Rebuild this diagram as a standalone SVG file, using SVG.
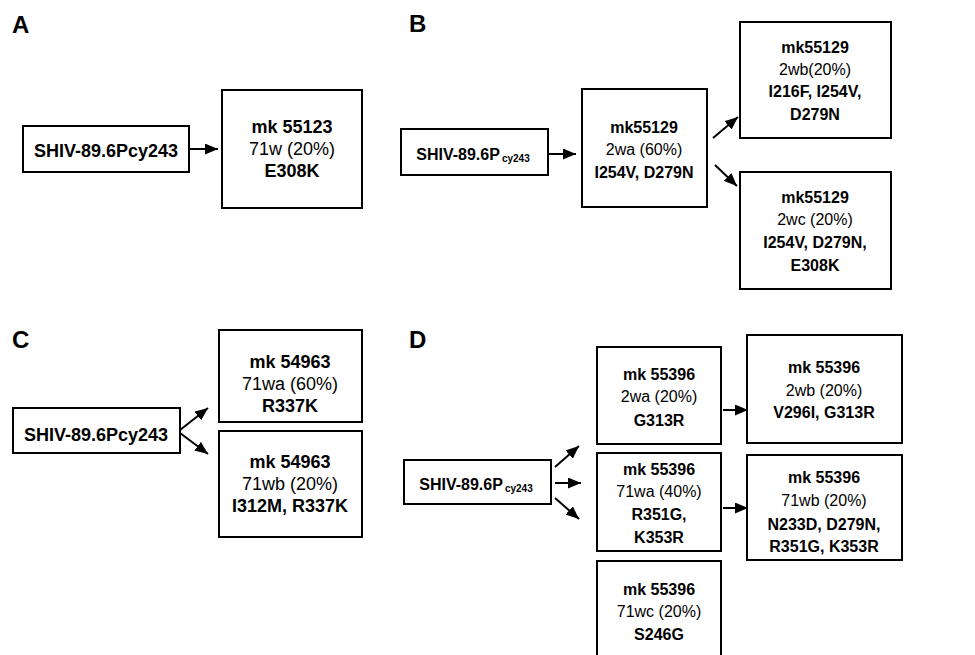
<svg xmlns="http://www.w3.org/2000/svg" width="975" height="655" viewBox="0 0 975 655">
<defs>
<marker id="ah" markerUnits="userSpaceOnUse" markerWidth="13" markerHeight="11" refX="13" refY="5.5" orient="auto">
<path d="M0,0 L13,5.5 L0,11 z" fill="#000"/>
</marker>
<style>
text{font-family:"Liberation Sans",Arial,sans-serif;fill:#000;text-anchor:middle}
.h{font-size:24px;font-weight:bold;text-anchor:start}
.b18{font-size:18px;font-weight:bold}
.r18{font-size:18px}
.b16{font-size:16px;font-weight:bold}
.r16{font-size:16px}
.sub{font-size:10px}
rect{fill:#fff;stroke:#000;stroke-width:2}
#connectors line{stroke:#000;stroke-width:2;marker-end:url(#ah)}
</style>
</defs>
<rect x="0" y="0" width="975" height="655" style="stroke:none"/>
<text class="h" x="12" y="33">A</text>
<text class="h" x="409" y="32">B</text>
<text class="h" x="12" y="348">C</text>
<text class="h" x="409" y="348">D</text>

<g id="A_src"><rect x="23" y="126" width="166" height="46"/><text class="b18" x="106" y="157">SHIV-89.6Pcy243</text></g>
<g id="A_71w"><rect x="222" y="90" width="140" height="118"/>
<text class="b18" x="292" y="133">mk 55123</text><text class="r18" x="292" y="155">71w (20%)</text><text class="b18" x="292" y="177">E308K</text></g>

<g id="B_src"><rect x="401" y="129" width="147" height="46"/><text class="b16" x="473" y="160">SHIV-89.6P<tspan class="sub" dx="2" dy="2">cy243</tspan></text></g>
<g id="B_2wa"><rect x="582" y="89" width="125" height="118"/>
<text class="b16" x="644" y="133">mk55129</text><text class="r16" x="644" y="155">2wa (60%)</text><text class="b16" x="644" y="178">I254V, D279N</text></g>
<g id="B_2wb"><rect x="740" y="22" width="151" height="116"/>
<text class="b16" x="815" y="53">mk55129</text><text class="r16" x="815" y="75">2wb(20%)</text><text class="b16" x="815" y="97">I216F, I254V,</text><text class="b16" x="815" y="120">D279N</text></g>
<g id="B_2wc"><rect x="740" y="172" width="151" height="117"/>
<text class="b16" x="815" y="203">mk55129</text><text class="r16" x="815" y="225">2wc (20%)</text><text class="b16" x="815" y="248">I254V, D279N,</text><text class="b16" x="815" y="271">E308K</text></g>

<g id="C_src"><rect x="13" y="408" width="167" height="45"/><text class="b18" x="96" y="441">SHIV-89.6Pcy243</text></g>
<g id="C_71wa"><rect x="219" y="330" width="143" height="92"/>
<text class="b18" x="290" y="368">mk 54963</text><text class="r18" x="290" y="390">71wa (60%)</text><text class="b18" x="290" y="412">R337K</text></g>
<g id="C_71wb"><rect x="219" y="431" width="143" height="106"/>
<text class="b18" x="290" y="468">mk 54963</text><text class="r18" x="290" y="490">71wb (20%)</text><text class="b18" x="290" y="512">I312M, R337K</text></g>

<g id="D_src"><rect x="404" y="460" width="147" height="44"/><text class="b16" x="476" y="490">SHIV-89.6P<tspan class="sub" dx="2" dy="2">cy243</tspan></text></g>
<g id="D_2wa"><rect x="597" y="347" width="124" height="97"/>
<text class="b16" x="659" y="380">mk 55396</text><text class="r16" x="659" y="402">2wa (20%)</text><text class="b16" x="659" y="426">G313R</text></g>
<g id="D_71wa"><rect x="597" y="453" width="124" height="98"/>
<text class="b16" x="659" y="475">mk 55396</text><text class="r16" x="659" y="497">71wa (40%)</text><text class="b16" x="659" y="520">R351G,</text><text class="b16" x="659" y="543">K353R</text></g>
<g id="D_71wc"><rect x="597" y="561" width="124" height="104"/>
<text class="b16" x="659" y="595">mk 55396</text><text class="r16" x="659" y="617">71wc (20%)</text><text class="b16" x="659" y="640">S246G</text></g>
<g id="D_2wb"><rect x="747" y="335" width="155" height="108"/>
<text class="b16" x="824" y="373">mk 55396</text><text class="r16" x="824" y="396">2wb (20%)</text><text class="b16" x="824" y="418">V296I, G313R</text></g>
<g id="D_71wb"><rect x="747" y="455" width="155" height="105"/>
<text class="b16" x="824" y="483">mk 55396</text><text class="r16" x="824" y="506">71wb (20%)</text><text class="b16" x="824" y="530">N233D, D279N,</text><text class="b16" x="824" y="552">R351G, K353R</text></g>

<g id="connectors">
<line x1="189" y1="149" x2="218" y2="149"/>
<line x1="548" y1="154" x2="576" y2="154"/>
<line x1="713" y1="138" x2="738" y2="117"/>
<line x1="715" y1="165" x2="737" y2="186"/>
<line x1="180" y1="430" x2="208" y2="408"/>
<line x1="180" y1="433" x2="208" y2="454"/>
<line x1="555" y1="467" x2="579" y2="446"/>
<line x1="555" y1="483" x2="581" y2="483"/>
<line x1="555" y1="498" x2="579" y2="519"/>
<line x1="723" y1="410" x2="748" y2="410"/>
<line x1="723" y1="508" x2="748" y2="508"/>
</g>
</svg>
